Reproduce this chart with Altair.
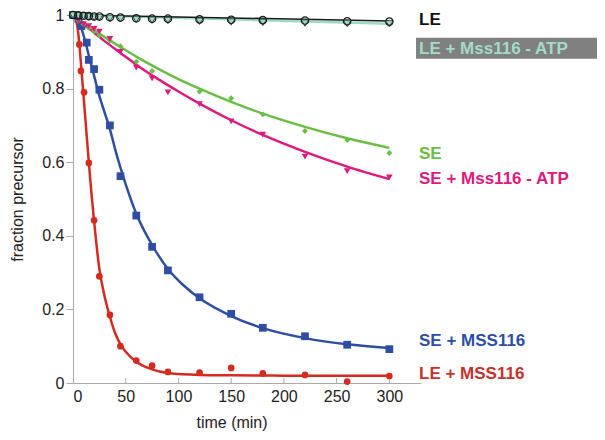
import altair as alt
import pandas as pd

# ---------------- data ----------------
le_t = [0, 5, 10, 15, 20, 25, 35, 45, 60, 75, 90, 120, 150, 180, 220, 260, 300]
le_v = [1.0, 0.999, 0.998, 0.997, 0.996, 0.996, 0.994, 0.993, 0.991, 0.990, 0.990, 0.988, 0.987, 0.986, 0.985, 0.983, 0.982]
lea_t = [0, 5, 10, 15, 20, 25, 35, 45, 60, 75, 90, 120, 150, 180, 220, 260, 300]
lea_v = [1.0, 0.998, 0.997, 0.995, 0.994, 0.993, 0.991, 0.990, 0.988, 0.986, 0.985, 0.983, 0.981, 0.980, 0.978, 0.977, 0.976]
se_t = [0, 5, 10, 15, 20, 25, 35, 45, 60, 75, 120, 150, 180, 220, 260, 300]
se_v = [1.0, 0.985, 0.975, 0.965, 0.955, 0.945, 0.93, 0.915, 0.873, 0.848, 0.792, 0.774, 0.730, 0.685, 0.66, 0.625]
sea_t = [0, 5, 10, 15, 20, 25, 35, 45, 60, 75, 90, 120, 150, 180, 220, 260, 300]
sea_v = [1.0, 0.985, 0.975, 0.97, 0.962, 0.955, 0.935, 0.90, 0.857, 0.828, 0.79, 0.758, 0.711, 0.675, 0.615, 0.576, 0.559]
sem_t = [0, 5, 8, 13, 15, 20, 25, 35, 45, 60, 75, 90, 120, 150, 180, 220, 260, 300]
sem_v = [1.0, 0.99, 0.97, 0.925, 0.878, 0.853, 0.797, 0.70, 0.562, 0.455, 0.37, 0.306, 0.233, 0.188, 0.150, 0.127, 0.104, 0.092]
lem_t = [0, 6, 7.5, 10.5, 15, 20, 25, 35, 45, 60, 75, 90, 120, 150, 180, 220, 260, 300]
lem_v = [1.0, 0.92, 0.848, 0.79, 0.598, 0.442, 0.29, 0.185, 0.10, 0.061, 0.047, 0.03, 0.028, 0.041, 0.026, 0.022, 0.004, 0.019]

# fitted curves
le_fit_t = [0, 300]
le_fit_v = [1.0, 0.984]
lea_fit_t = [0, 300]
lea_fit_v = [1.0, 0.976]
se_fit_t = [0, 10, 20, 30, 45, 60, 80, 100, 120, 150, 180, 220, 260, 300]
se_fit_v = [1.0, 0.979, 0.959, 0.940, 0.913, 0.887, 0.855, 0.826, 0.80, 0.764, 0.732, 0.696, 0.665, 0.639]
sea_fit_t = [0, 10, 20, 30, 45, 60, 80, 100, 120, 150, 180, 220, 260, 300]
sea_fit_v = [1.0, 0.975, 0.952, 0.929, 0.897, 0.865, 0.827, 0.792, 0.759, 0.714, 0.674, 0.628, 0.588, 0.554]
sem_fit_t = [0, 5, 10, 15, 20, 25, 30, 35, 40, 45, 50, 60, 75, 90, 105, 120, 150, 180, 220, 260, 300]
sem_fit_v = [1.0, 0.985, 0.945, 0.89, 0.835, 0.78, 0.735, 0.69, 0.635, 0.585, 0.54, 0.46, 0.375, 0.31, 0.265, 0.23, 0.182, 0.149, 0.122, 0.105, 0.095]
lem_fit_t = [0, 2.5, 5, 7.5, 10, 12.5, 15, 17.5, 20, 25, 30, 35, 40, 45, 50, 60, 75, 90, 120, 150, 200, 250, 300]
lem_fit_v = [1.0, 0.99, 0.95, 0.87, 0.78, 0.69, 0.60, 0.515, 0.44, 0.31, 0.235, 0.18, 0.135, 0.105, 0.085, 0.058, 0.037, 0.027, 0.022, 0.021, 0.02, 0.02, 0.02]

x_ticks = [0, 50, 100, 150, 200, 250, 300]
y_ticks = [0, 0.2, 0.4, 0.6, 0.8, 1.0]

labels = ["LE", "LE + Mss116 - ATP", "SE", "SE + Mss116 - ATP", "SE + MSS116", "LE + MSS116"]
label_y = [0.987, 0.908, 0.621, 0.553, 0.114, 0.024]
label_colors = ["#111111", "#a3dcc6", "#6abd45", "#e0197d", "#2f4ea3", "#c8302a"]

C_LE, C_LEA, C_SE, C_SEA, C_SEM, C_LEM = "#1a1a1a", "#9dd8c2", "#6abd45", "#e0197d", "#2f4ea3", "#d42a20"

FONT = "Liberation Sans"
W, H = 348, 368

xs = alt.Scale(domain=[0, 330], nice=False, zero=False)
ys = alt.Scale(domain=[0, 1], nice=False)

def pts(t, v):
    return pd.DataFrame({"t": t, "v": v})

X = alt.X("t:Q", scale=xs, axis=alt.Axis(
    values=x_ticks, ticks=False, grid=False, domainColor="#aaaaaa", domainWidth=1,
    labelFont=FONT, labelFontSize=16, labelColor="#222222", labelPadding=5,
    title="time (min)", titleFont=FONT, titleFontSize=16, titleFontWeight="normal",
    titleColor="#222222", titlePadding=10, titleX=158.5))
Y = alt.Y("v:Q", scale=ys, axis=alt.Axis(
    values=y_ticks, format="~g", grid=False, domainColor="#aaaaaa", domainWidth=1,
    tickColor="#aaaaaa", tickSize=7, labelFont=FONT, labelFontSize=16, labelColor="#222222",
    labelPadding=2, title="fraction precursor", titleFont=FONT, titleFontSize=16,
    titleFontWeight="normal", titleColor="#222222", titlePadding=16))

def line(t, v, color, width=2.5):
    return alt.Chart(pts(t, v)).mark_line(color=color, strokeWidth=width, interpolate="monotone").encode(
        x=alt.X("t:Q", scale=xs), y=alt.Y("v:Q", scale=ys))

def marks(t, v, shape, color, size, filled=True, stroke=None):
    kw = dict(shape=shape, size=size, opacity=1)
    if filled:
        kw.update(filled=True, color=color)
        if stroke:
            kw.update(stroke=stroke, strokeWidth=1)
    else:
        kw.update(filled=False, color=color, strokeWidth=1.2)
    return alt.Chart(pts(t, v)).mark_point(**kw).encode(
        x=alt.X("t:Q", scale=xs), y=alt.Y("v:Q", scale=ys))

base = alt.Chart(pts([0], [0])).mark_point(opacity=0).encode(x=X, y=Y)

tick_df = pd.DataFrame({"t": x_ticks[1:]})
xticks = alt.Chart(tick_df).mark_rule(color="#aaaaaa", strokeWidth=1).encode(
    x=alt.X("t:Q", scale=xs), y=alt.value(H), y2=alt.value(H - 5))

lab_df = pd.DataFrame({"label": labels, "v": label_y, "c": label_colors, "t": [330] * len(labels)})
box_df = pd.DataFrame({"x1": [325.3], "x2": [499.4], "y1": [0.881], "y2": [0.938]})
box = alt.Chart(box_df).mark_rect(color="#808080").encode(
    x=alt.X("x1:Q", scale=xs), x2="x2:Q", y=alt.Y("y1:Q", scale=ys), y2="y2:Q")
texts = alt.Chart(lab_df).mark_text(align="left", baseline="middle", font=FONT, fontSize=17,
                                     fontWeight="bold", dx=-2).encode(
    x=alt.X("t:Q", scale=xs), y=alt.Y("v:Q", scale=ys), text="label:N",
    color=alt.Color("c:N", scale=None))

chart = alt.layer(
    base, xticks,
    line(lem_fit_t, lem_fit_v, C_LEM),
    line(sem_fit_t, sem_fit_v, C_SEM),
    line(se_fit_t, se_fit_v, C_SE),
    line(sea_fit_t, sea_fit_v, C_SEA),
    marks(lem_t, lem_v, "circle", C_LEM, 45),
    marks(sem_t, sem_v, "square", C_SEM, 60),
    marks(se_t, se_v, "diamond", C_SE, 35),
    marks(sea_t, sea_v, "triangle-down", C_SEA, 45),
    line(lea_fit_t, lea_fit_v, C_LEA, 2.5),
    line(le_fit_t, le_fit_v, C_LE, 1.5),
    marks(lea_t, lea_v, "triangle-down", C_LEA, 55, stroke="#3a5a50"),
    marks(le_t, le_v, "circle", C_LE, 55, filled=False),
    box, texts,
).properties(
    width=W, height=H,
    autosize=alt.AutoSizeParams(type="none"),
    padding={"left": 65, "top": 7, "right": 176, "bottom": 48},
).configure_view(stroke=None)

chart.save("out.html", embed_options={"renderer": "svg", "actions": False})
